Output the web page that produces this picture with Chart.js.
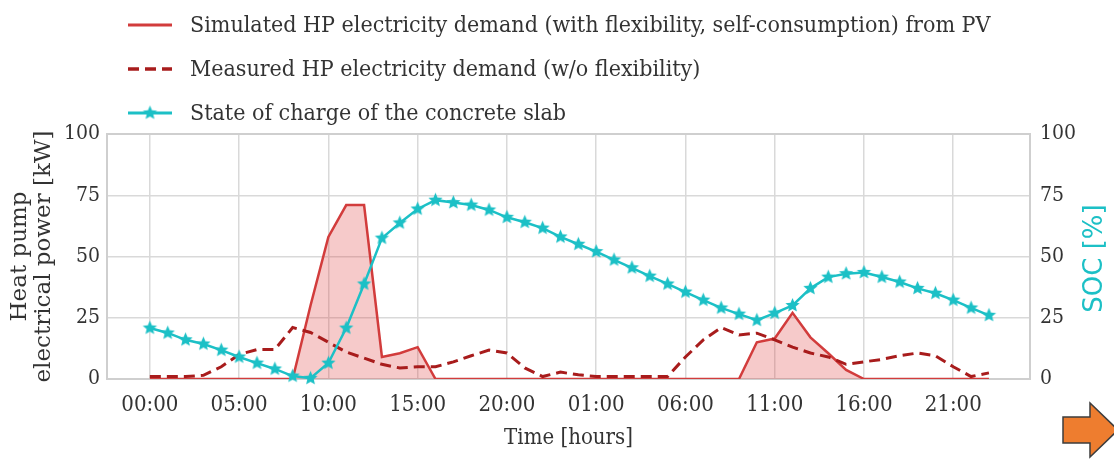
<!DOCTYPE html>
<html>
<head>
<meta charset="utf-8">
<script src="https://cdn.jsdelivr.net/npm/chart.js@4.4.1/dist/chart.umd.min.js"></script>
<style>
  html, body { margin: 0; padding: 0; background: #fff; }
  #wrap { position: relative; width: 1114px; height: 462px; }
</style>
</head>
<body>
<div id="wrap"><canvas id="hpChart"></canvas></div>
<script>
// hours since start of day 1 (two days, hourly)
const hours = [0, 1, 2, 3, 4, 5, 6, 7, 8, 9, 10, 11, 12, 13, 14, 15, 16, 17, 18, 19, 20, 21, 22, 23,
               24, 25, 26, 27, 28, 29, 30, 31, 32, 33, 34, 35, 36, 37, 38, 39, 40, 41, 42, 43, 44, 45, 46, 47];
const tickHours = [0, 5, 10, 15, 20, 25, 30, 35, 40, 45];
const tickLabels = ['00:00', '05:00', '10:00', '15:00', '20:00', '01:00', '06:00', '11:00', '16:00', '21:00'];

const simulatedKw = [0, 0, 0, 0, 0, 0, 0, 0, 0, 30, 58, 71, 71, 9, 10.5, 13, 0, 0, 0, 0, 0, 0, 0, 0,
                     0, 0, 0, 0, 0, 0, 0, 0, 0, 0, 15, 16.5, 27, 17, 10.5, 3.7, 0, 0, 0, 0, 0, 0, 0, 0];
const measuredKw = [1, 1, 1, 1.5, 5, 10, 12, 12, 21, 19, 15, 11, 8.5, 6, 4.5, 5, 5, 7, 9.5, 11.8, 10.6, 4.5, 1, 2.8,
                    1.7, 1, 1, 1, 1, 1, 9, 16, 21, 18, 18.7, 16, 13, 10.6, 9, 6, 7, 8, 9.5, 10.6, 9.5, 5, 1, 2.5];
const socPct = [20.8, 18.8, 16, 14.3, 11.8, 9, 6.5, 4.1, 1.2, 0.3, 6.5, 20.8, 38.8, 57.5, 63.7, 69.4, 73, 72, 71, 69, 66, 64, 61.6, 58,
                55, 52, 48.6, 45.4, 42, 38.8, 35.5, 32.2, 29, 26.5, 24, 26.9, 30, 37, 41.6, 43, 43.5, 41.6, 39.6, 37, 35, 32.2, 29, 26];

const seriesNames = [
    'Simulated HP electricity demand (with flexibility, self-consumption) from PV',
    'Measured HP electricity demand (w/o flexibility)',
    'State of charge of the concrete slab',
];

const serif = "'DejaVu Serif Condensed', 'Liberation Serif', serif";
const textColor = '#333333';
const gridColor = '#d9d9d9';
const cyan = '#1cc0c6';

function pairs(ys) {
    return hours.map((h, i) => ({x: h, y: ys[i]}));
}

function makeStar(color, r) {
    const c = document.createElement('canvas');
    const size = Math.ceil(r * 2 + 2);
    c.width = c.height = size;
    const g = c.getContext('2d');
    g.beginPath();
    for (let i = 0; i < 10; i++) {
        const rad = i % 2 ? r * 0.45 : r;
        const a = -Math.PI / 2 + i * Math.PI / 5;
        g.lineTo(size / 2 + rad * Math.cos(a), size / 2 + rad * Math.sin(a));
    }
    g.closePath();
    g.fillStyle = color;
    g.fill();
    return c;
}
const star = makeStar(cyan, 7.5);

// legend drawn as three stacked rows above the plot
const legendRows = {
    id: 'legendRows',
    afterDraw(chart) {
        const ctx = chart.ctx;
        ctx.save();
        ctx.font = `23px ${serif}`;
        ctx.textBaseline = 'middle';
        ctx.textAlign = 'left';
        chart.data.datasets.forEach((ds, i) => {
            const y = 25 + i * 44;
            ctx.beginPath();
            ctx.setLineDash(ds.borderDash || []);
            ctx.strokeStyle = ds.borderColor;
            ctx.lineWidth = ds.borderWidth + 0.5;
            ctx.moveTo(128, y);
            ctx.lineTo(172, y);
            ctx.stroke();
            ctx.setLineDash([]);
            if (ds.pointStyle instanceof HTMLCanvasElement) {
                ctx.drawImage(ds.pointStyle, 150 - ds.pointStyle.width / 2, y - ds.pointStyle.height / 2);
            }
            ctx.fillStyle = textColor;
            ctx.fillText(ds.label, 190, y + 1);
        });
        ctx.restore();
    }
};

// light frame round the plot area
const plotFrame = {
    id: 'plotFrame',
    beforeDatasetsDraw(chart) {
        const {ctx, chartArea: a} = chart;
        ctx.save();
        ctx.strokeStyle = '#cfcfcf';
        ctx.lineWidth = 2;
        ctx.strokeRect(a.left, a.top, a.right - a.left, a.bottom - a.top);
        ctx.restore();
    }
};

// right axis title reads bottom to top like the left one
const socTitle = {
    id: 'socTitle',
    afterDraw(chart) {
        const ctx = chart.ctx;
        const a = chart.chartArea;
        ctx.save();
        ctx.translate(1095, (a.top + a.bottom) / 2 + 2);
        ctx.rotate(-Math.PI / 2);
        ctx.font = "26px 'DejaVu Sans', sans-serif";
        ctx.fillStyle = cyan;
        ctx.textAlign = 'center';
        ctx.textBaseline = 'middle';
        ctx.fillText('SOC [%]', 0, 0);
        ctx.restore();
    }
};

// orange arrow at the lower right corner of the slide
const cornerArrow = {
    id: 'cornerArrow',
    afterDraw(chart) {
        const ctx = chart.ctx;
        ctx.save();
        ctx.beginPath();
        ctx.moveTo(1063, 417);
        ctx.lineTo(1090, 417);
        ctx.lineTo(1090, 403);
        ctx.lineTo(1118, 430);
        ctx.lineTo(1090, 457);
        ctx.lineTo(1090, 443);
        ctx.lineTo(1063, 443);
        ctx.closePath();
        ctx.fillStyle = '#ee7d2f';
        ctx.fill();
        ctx.strokeStyle = '#3d3d3d';
        ctx.lineWidth = 1.5;
        ctx.stroke();
        ctx.restore();
    }
};

const ctx = document.getElementById('hpChart').getContext('2d');
const chart = new Chart(ctx, {
    type: 'line',
    data: {
        datasets: [
            {
                label: seriesNames[0],
                data: pairs(simulatedKw),
                borderColor: '#d23c3c',
                backgroundColor: 'rgba(220, 60, 60, 0.27)',
                borderWidth: 2.5,
                fill: 'origin',
                pointRadius: 0,
                tension: 0,
                yAxisID: 'y',
                order: 2,
            },
            {
                label: seriesNames[1],
                data: pairs(measuredKw),
                borderColor: '#a81c1c',
                borderWidth: 3,
                borderDash: [11, 6],
                fill: false,
                pointRadius: 0,
                tension: 0,
                yAxisID: 'y',
                order: 1,
            },
            {
                label: seriesNames[2],
                data: pairs(socPct),
                borderColor: cyan,
                borderWidth: 2.5,
                pointStyle: star,
                pointRadius: 7,
                fill: false,
                tension: 0,
                clip: false,
                yAxisID: 'y1',
                order: 0,
            },
        ],
    },
    options: {
        responsive: true,
        maintainAspectRatio: false,
        animation: false,
        layout: {padding: {top: 134, left: 0, right: 0, bottom: 0}},
        plugins: {
            legend: {display: false},
            tooltip: {enabled: false},
        },
        scales: {
            x: {
                type: 'linear',
                min: -2.4,
                max: 49.3,
                afterBuildTicks(scale) {
                    scale.ticks = tickHours.map(v => ({value: v}));
                },
                ticks: {
                    callback: (value, index) => tickLabels[index],
                    padding: 13,
                    maxRotation: 0,
                    autoSkip: false,
                    color: textColor,
                    font: {family: serif, size: 22},
                },
                grid: {color: gridColor, lineWidth: 1.5, drawTicks: false},
                border: {display: false},
                title: {
                    display: true,
                    text: 'Time [hours]',
                    color: textColor,
                    font: {family: serif, size: 22},
                    padding: {top: 0, bottom: 11},
                },
                afterFit(scale) { scale.height = 83; },
            },
            y: {
                position: 'left',
                min: 0,
                max: 100,
                ticks: {stepSize: 25, padding: 7, color: textColor, font: {family: serif, size: 21}},
                grid: {color: gridColor, lineWidth: 1.5, drawTicks: false},
                border: {display: false},
                title: {
                    display: true,
                    text: ['Heat pump', 'electrical power [kW]'],
                    color: textColor,
                    font: {family: "'DejaVu Serif', serif", size: 23, lineHeight: 1.03},
                    padding: {top: 8, bottom: 0},
                },
                afterFit(scale) { scale.width = 107; },
            },
            y1: {
                position: 'right',
                min: 0,
                max: 100,
                ticks: {stepSize: 25, padding: 10, color: textColor, font: {family: serif, size: 21}},
                grid: {drawOnChartArea: false, drawTicks: false},
                border: {display: false},
                afterFit(scale) { scale.width = 84; },
            },
        },
    },
    plugins: [plotFrame, legendRows, socTitle, cornerArrow],
});
</script>
</body>
</html>
